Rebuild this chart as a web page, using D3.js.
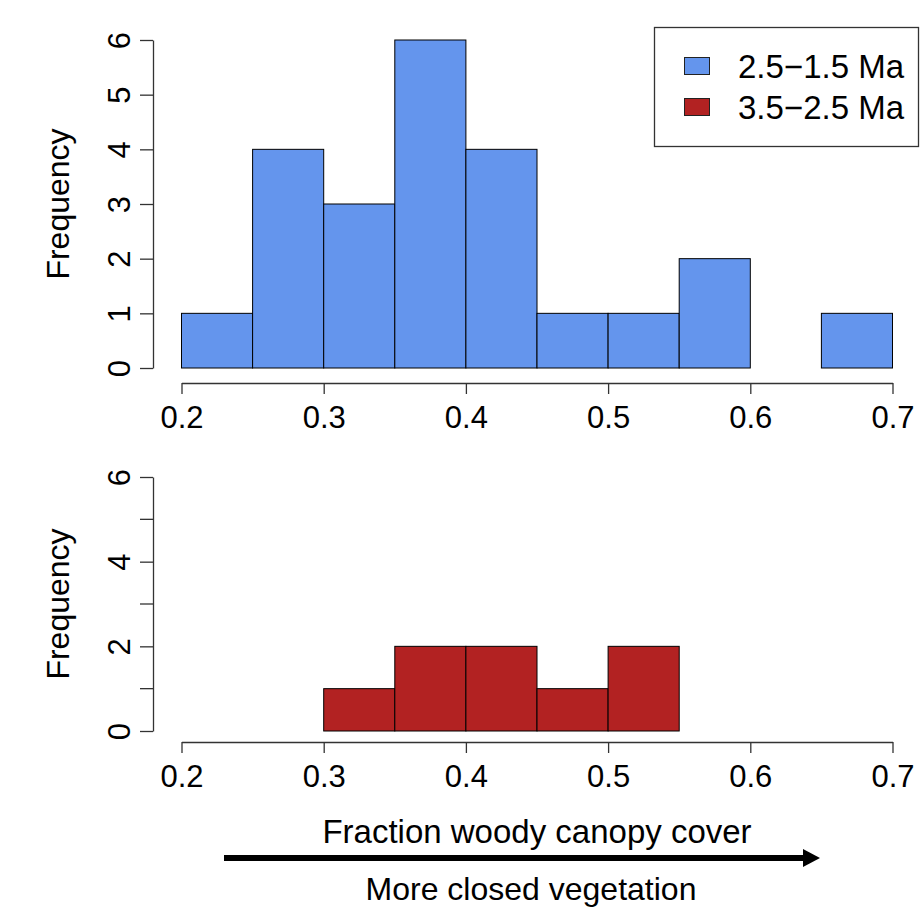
<!DOCTYPE html>
<html>
<head>
<meta charset="utf-8">
<script src="https://cdn.jsdelivr.net/npm/d3@7"></script>
<style>
  body { margin: 0; background: #fff; }
  text { font-family: "Liberation Sans", Arial, sans-serif; fill: #000; }
</style>
</head>
<body>
<svg id="chart" width="923" height="924"></svg>
<script>
// Bin edges (fraction woody canopy cover)
const binStarts = [0.20, 0.25, 0.30, 0.35, 0.40, 0.45, 0.50, 0.55, 0.60, 0.65];
const binWidth = 0.05;

// Counts per bin
const countsYoung = [1, 4, 3, 6, 4, 1, 1, 2, 0, 1]; // 2.5-1.5 Ma
const countsOld = [0, 0, 1, 2, 2, 1, 2, 0, 0, 0];   // 3.5-2.5 Ma

const xTicks = [0.2, 0.3, 0.4, 0.5, 0.6, 0.7];
const yTicksTop = [0, 1, 2, 3, 4, 5, 6];
const yTicksBottomMajor = [0, 2, 4, 6];
const yTicksBottomMinor = [1, 3, 5];

const legendLabels = ["2.5\u22121.5 Ma", "3.5\u22122.5 Ma"];
const colors = { young: "#6495ED", old: "#B22222" };

const svg = d3.select("#chart");
const FONT = 31;
const BIG_FONT = 33;
const AXIS_COLOR = "#333";

const x = d3.scaleLinear().domain([0.2, 0.7]).range([181.5, 892.5]);

// Draw one histogram panel
function drawPanel(counts, color, yRange, axisY, majorTicks, minorTicks) {
  const y = d3.scaleLinear().domain([0, 6]).range(yRange);
  const g = svg.append("g");

  // bars
  g.selectAll("rect")
    .data(binStarts.map((s, i) => ({ s, c: counts[i] })).filter(d => d.c > 0))
    .join("rect")
    .attr("x", d => x(d.s))
    .attr("width", d => x(d.s + binWidth) - x(d.s))
    .attr("y", d => y(d.c))
    .attr("height", d => y(0) - y(d.c))
    .attr("fill", color)
    .attr("stroke", "#000")
    .attr("stroke-width", 1);

  // x axis
  const xa = g.append("g").attr("transform", `translate(0,${axisY})`)
    .call(d3.axisBottom(x).tickValues(xTicks).tickFormat(d3.format(".1f")).tickSize(11).tickSizeOuter(0).tickPadding(12));
  xa.select(".domain").attr("stroke", AXIS_COLOR).attr("stroke-width", 1.3);
  xa.selectAll(".tick line").attr("stroke", AXIS_COLOR).attr("stroke-width", 1.3);
  xa.selectAll("text").style("font-size", FONT + "px").attr("fill", "#000");

  // y axis
  const ya = g.append("g").attr("transform", "translate(153,0)")
    .call(d3.axisLeft(y).tickValues(majorTicks).tickFormat(d3.format("d")).tickSize(13).tickSizeOuter(0).tickPadding(0));
  ya.select(".domain").attr("stroke", AXIS_COLOR).attr("stroke-width", 1.3);
  ya.selectAll(".tick line").attr("stroke", AXIS_COLOR).attr("stroke-width", 1.3);
  ya.selectAll(".tick text")
    .attr("x", null).attr("dy", null)
    .attr("text-anchor", "middle")
    .attr("transform", "translate(-34,0) rotate(-90)")
    .attr("dy", "0.36em")
    .attr("fill", "#000")
    .style("font-size", FONT + "px");

  g.selectAll("line.minor")
    .data(minorTicks)
    .join("line")
    .attr("class", "minor")
    .attr("x1", 140).attr("x2", 153)
    .attr("y1", d => y(d)).attr("y2", d => y(d))
    .attr("stroke", AXIS_COLOR).attr("stroke-width", 1.3);

  // y label
  g.append("text")
    .attr("transform", `translate(69,${(yRange[0] + yRange[1]) / 2}) rotate(-90)`)
    .attr("text-anchor", "middle")
    .style("font-size", "32px")
    .text("Frequency");
}

drawPanel(countsYoung, colors.young, [368, 40], 383, yTicksTop, []);
drawPanel(countsOld, colors.old, [731, 477], 742, yTicksBottomMajor, yTicksBottomMinor);

// Legend
const legend = svg.append("g");
legend.append("rect")
  .attr("x", 654.5).attr("y", 27.5).attr("width", 264).attr("height", 119)
  .attr("fill", "#fff").attr("stroke", "#333").attr("stroke-width", 1.3);
[colors.young, colors.old].forEach((c, i) => {
  const cy = 66 + i * 41;
  legend.append("rect")
    .attr("x", 684.5).attr("y", cy - 8.5).attr("width", 25).attr("height", 17)
    .attr("fill", c).attr("stroke", "#222").attr("stroke-width", 1);
  legend.append("text")
    .attr("x", 738).attr("y", cy).attr("dy", "0.36em")
    .style("font-size", BIG_FONT + "px")
    .text(legendLabels[i]);
});

// Bottom annotation
svg.append("text")
  .attr("x", 537).attr("y", 843)
  .attr("text-anchor", "middle")
  .style("font-size", BIG_FONT + "px")
  .text("Fraction woody canopy cover");

svg.append("line")
  .attr("x1", 224).attr("x2", 805)
  .attr("y1", 858).attr("y2", 858)
  .attr("stroke", "#000").attr("stroke-width", 6);

svg.append("path")
  .attr("d", "M803,849L820,858L803,867Z")
  .attr("fill", "#000");

svg.append("text")
  .attr("x", 531).attr("y", 900)
  .attr("text-anchor", "middle")
  .style("font-size", "32px")
  .text("More closed vegetation");
</script>
</body>
</html>
